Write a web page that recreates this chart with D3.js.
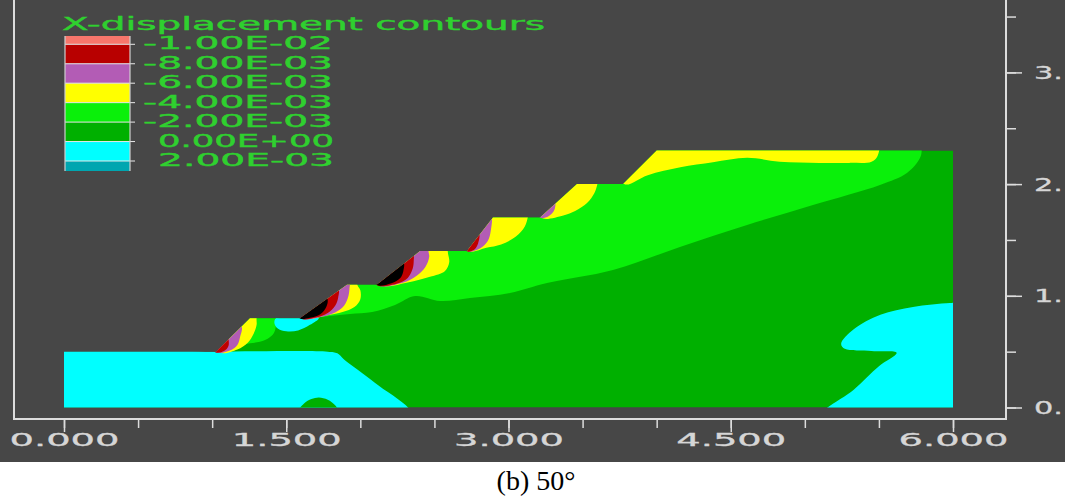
<!DOCTYPE html>
<html>
<head>
<meta charset="utf-8">
<script src="https://cdn.jsdelivr.net/npm/d3@7"></script>
<style>
  html, body { margin: 0; padding: 0; background: #ffffff; }
  svg { display: block; }
</style>
</head>
<body>
<svg id="chart" width="1065" height="497"></svg>
<script>
// ---- axis ticks and labels (model units, metres) ----
const xTickValues = [0, 0.5, 1, 1.5, 2, 2.5, 3, 3.5, 4, 4.5, 5, 5.5, 6];
const xLabelValues = [0, 1.5, 3, 4.5, 6];
const yTickValues = [0, 0.5, 1, 1.5, 2, 2.5, 3, 3.5];
const yLabelValues = [0, 1, 2, 3];

// ---- legend ----
const legendTitle = "X-displacement contours";
const legendLevels = ["-1.00E-02", "-8.00E-03", "-6.00E-03", "-4.00E-03", "-2.00E-03", " 0.00E+00", " 2.00E-03"];
const legendColors = ["#f7766c", "#b80000", "#b35cb5", "#ffff00", "#0af00a", "#00b000", "#00ffff", "#00a6b0"];

// ---- stepped slope profile (x, y) ----
const slopeProfile = [
  [0, 0], [0, 0.5], [1.026, 0.5], [1.255, 0.8], [1.593, 0.8], [1.91, 1.1], [2.112, 1.1],
  [2.403, 1.4], [2.72, 1.4], [2.895, 1.7], [3.213, 1.7], [3.462, 2.0], [3.773, 2.0],
  [4.0, 2.3], [6, 2.3], [6, 0]
];

// ---- contour zones (x, y) ----
const cyanToe = [[-0.1, 0.5], [1.0, 0.5], [1.78, 0.5], [1.845, 0.485], [1.89, 0.43], [2.1, 0.22], [2.34, -0.06], [-0.1, -0.06]];
const baseBump = [[1.57, -0.06], [1.62, 0.035], [1.67, 0.075], [1.72, 0.09], [1.78, 0.07], [1.83, 0.02], [1.86, -0.06]];
const cyanRight = [[6.1, 0.94], [5.98, 0.935], [5.73, 0.9], [5.51, 0.83], [5.33, 0.7], [5.245, 0.57], [5.27, 0.525],
                   [5.45, 0.505], [5.62, 0.49], [5.5, 0.37], [5.33, 0.16], [5.12, -0.06], [6.1, -0.06]];
const cyanPocket = [[1.42, 0.755], [1.445, 0.705], [1.5, 0.683], [1.58, 0.69], [1.66, 0.74], [1.72, 0.8], [1.6, 0.805], [1.5, 0.81], [1.43, 0.8]];
const lightBand = [[1.0, 0.7], [1.134, 0.56], [1.255, 0.575], [1.357, 0.604], [1.417, 0.667], [1.438, 0.765], [1.49, 0.86],
                   [1.714, 0.81], [1.795, 0.82], [1.93, 0.837], [2.08, 0.855], [2.234, 0.918], [2.369, 0.998], [2.538, 0.954],
                   [2.74, 0.98], [3.01, 1.025], [3.26, 1.114], [3.705, 1.231], [4.157, 1.437], [4.61, 1.634], [5.055, 1.813],
                   [5.507, 1.992], [5.689, 2.099], [5.777, 2.233], [5.79, 2.32], [5.79, 2.6], [1.0, 2.6]];
const yellow1 = [[1.0, 0.75], [1.05, 0.495], [1.17, 0.52], [1.24, 0.58], [1.28, 0.66], [1.3, 0.74], [1.3, 0.8], [1.32, 0.9]];
const yellow2 = [[1.58, 0.9], [1.62, 0.797], [1.78, 0.825], [1.88, 0.855], [1.96, 0.9], [2.0, 0.97], [2.0, 1.05], [1.98, 1.1], [1.99, 1.2], [1.8, 1.15]];
const yellow3 = [[2.1, 1.3], [2.14, 1.097], [2.32, 1.12], [2.47, 1.17], [2.57, 1.22], [2.6, 1.3], [2.59, 1.4], [2.6, 1.5], [2.4, 1.5]];
const yellow4 = [[2.7, 1.6], [2.73, 1.4], [2.85, 1.43], [2.95, 1.46], [3.05, 1.53], [3.11, 1.62], [3.13, 1.7], [3.14, 1.8], [2.9, 1.8]];
const yellow5 = [[3.2, 1.9], [3.22, 1.7], [3.37, 1.72], [3.45, 1.76], [3.53, 1.83], [3.58, 1.92], [3.6, 2.0], [3.61, 2.1], [3.4, 2.1]];
const yellow6 = [[3.7, 2.3], [3.78, 2.0], [3.94, 2.08], [4.16, 2.15], [4.38, 2.195], [4.61, 2.235], [4.83, 2.2], [5.1, 2.19],
                 [5.3, 2.19], [5.45, 2.2], [5.49, 2.25], [5.49, 2.4], [4.5, 2.5]];
const purple1 = [[0.98, 0.65], [1.03, 0.495], [1.12, 0.51], [1.17, 0.56], [1.19, 0.64], [1.2, 0.72], [1.15, 0.8]];
const purple2 = [[1.58, 0.92], [1.6, 0.797], [1.74, 0.812], [1.83, 0.85], [1.89, 0.91], [1.92, 1.0], [1.93, 1.1], [1.94, 1.15], [1.75, 1.1]];
const purple3 = [[2.1, 1.3], [2.12, 1.097], [2.28, 1.115], [2.38, 1.18], [2.44, 1.26], [2.465, 1.35], [2.46, 1.4], [2.47, 1.5], [2.3, 1.5]];
const purple4 = [[2.7, 1.55], [2.722, 1.398], [2.81, 1.425], [2.86, 1.49], [2.88, 1.58], [2.88, 1.72], [2.75, 1.65]];
const purple5 = [[3.19, 1.8], [3.215, 1.698], [3.27, 1.712], [3.31, 1.77], [3.31, 1.88], [3.23, 1.85]];
const red1 = [[0.98, 0.6], [1.02, 0.495], [1.08, 0.505], [1.11, 0.55], [1.11, 0.62], [1.1, 0.7]];
const red2 = [[1.58, 0.9], [1.6, 0.797], [1.7, 0.805], [1.78, 0.845], [1.83, 0.91], [1.85, 0.98], [1.85, 1.06]];
const red3 = [[2.09, 1.25], [2.11, 1.097], [2.25, 1.11], [2.32, 1.16], [2.35, 1.23], [2.36, 1.3], [2.35, 1.4]];
const red4 = [[2.7, 1.5], [2.72, 1.398], [2.77, 1.415], [2.795, 1.47], [2.8, 1.56], [2.72, 1.55]];
const black2 = [[1.58, 0.86], [1.593, 0.797], [1.66, 0.803], [1.73, 0.835], [1.77, 0.9], [1.78, 0.96], [1.76, 1.02]];
const black3 = [[2.09, 1.2], [2.112, 1.097], [2.21, 1.113], [2.27, 1.16], [2.29, 1.22], [2.29, 1.3]];

// ---- colours ----
const BG = "#474747";
const AXIS = "#dcdcdc";
const TEXT_GREEN = "#2fd02f";
const C = {
  darkGreen: "#00b000", lightGreen: "#0af00a", cyan: "#00ffff", yellow: "#ffff00",
  purple: "#b35cb5", red: "#bf0000", black: "#000000"
};

const zones = [
  { pts: cyanToe, fill: C.cyan },
  { pts: baseBump, fill: C.darkGreen },
  { pts: cyanRight, fill: C.cyan },
  { pts: lightBand, fill: C.lightGreen },
  { pts: cyanPocket, fill: C.cyan },
  { pts: yellow1, fill: C.yellow }, { pts: yellow2, fill: C.yellow }, { pts: yellow3, fill: C.yellow },
  { pts: yellow4, fill: C.yellow }, { pts: yellow5, fill: C.yellow }, { pts: yellow6, fill: C.yellow },
  { pts: purple1, fill: C.purple }, { pts: purple2, fill: C.purple }, { pts: purple3, fill: C.purple },
  { pts: purple4, fill: C.purple }, { pts: purple5, fill: C.purple },
  { pts: red1, fill: C.red }, { pts: red2, fill: C.red }, { pts: red3, fill: C.red }, { pts: red4, fill: C.red },
  { pts: black2, fill: C.black }, { pts: black3, fill: C.black }
];

// ---- scales ----
const x = d3.scaleLinear().domain([0, 6]).range([64, 953]);
const y = d3.scaleLinear().domain([0, 3]).range([407.5, 72.4]);

const svg = d3.select("#chart");

// plot background
svg.append("rect").attr("x", 0).attr("y", 0).attr("width", 1065).attr("height", 462).attr("fill", BG);

// model outline used as clip
const outline = d3.line().x(d => x(d[0])).y(d => y(d[1])).curve(d3.curveLinearClosed);
const smooth = d3.line().x(d => x(d[0])).y(d => y(d[1])).curve(d3.curveCatmullRomClosed.alpha(0.5));

svg.append("defs").append("clipPath").attr("id", "model-clip")
  .append("path").attr("d", outline(slopeProfile));

const plot = svg.append("g").attr("clip-path", "url(#model-clip)");
plot.append("path").attr("d", outline(slopeProfile)).attr("fill", C.darkGreen);
plot.selectAll("path.zone").data(zones).join("path")
  .attr("class", "zone")
  .attr("d", d => smooth(d.pts))
  .attr("fill", d => d.fill);

// ---- frame lines ----
svg.append("line").attr("x1", 14).attr("x2", 14).attr("y1", 0).attr("y2", 419)
  .attr("stroke", AXIS).attr("stroke-width", 2);
svg.append("line").attr("x1", 13).attr("x2", 1007).attr("y1", 419).attr("y2", 419)
  .attr("stroke", AXIS).attr("stroke-width", 2);
svg.append("line").attr("x1", 1006).attr("x2", 1006).attr("y1", 0).attr("y2", 419)
  .attr("stroke", AXIS).attr("stroke-width", 2);

// ---- bottom axis ----
const styleAxis = g => {
  g.select(".domain").remove();
  g.selectAll(".tick line").attr("stroke", AXIS).attr("stroke-width", 1.5);
};
svg.append("g").attr("transform", "translate(0,419)")
  .call(d3.axisBottom(x).tickValues(xTickValues).tickSize(9).tickFormat(""))
  .call(styleAxis);
const xMajor = svg.append("g").attr("transform", "translate(0,419)")
  .call(d3.axisBottom(x).tickValues(xLabelValues).tickSize(13).tickFormat(d3.format(".3f")))
  .call(styleAxis);
xMajor.selectAll(".tick text")
  .attr("y", 27).attr("dy", 0)
  .attr("fill", "#d6d6d6")
  .attr("font-family", "DejaVu Sans, sans-serif")
  .attr("font-size", 17)
  .attr("stroke", "#d6d6d6").attr("stroke-width", 0.3)
  .attr("textLength", 110).attr("lengthAdjust", "spacingAndGlyphs");

// ---- right axis (labels run into the window edge, only the units digit shows) ----
svg.append("g").attr("transform", "translate(1006,0)")
  .call(d3.axisRight(y).tickValues(yTickValues).tickSize(10).tickFormat(""))
  .call(styleAxis);
const yMajor = svg.append("g").attr("transform", "translate(1006,0)")
  .call(d3.axisRight(y).tickValues(yLabelValues).tickSize(16).tickFormat(d => d3.format("d")(d) + "."))
  .call(styleAxis);
yMajor.selectAll(".tick text")
  .attr("x", 28).attr("dy", "0.35em")
  .attr("text-anchor", "start")
  .attr("fill", "#d6d6d6")
  .attr("font-family", "DejaVu Sans, sans-serif")
  .attr("font-size", 17)
  .attr("stroke", "#d6d6d6").attr("stroke-width", 0.3)
  .attr("textLength", 29).attr("lengthAdjust", "spacingAndGlyphs");

// ---- legend ----
const legend = svg.append("g");
legend.append("text")
  .attr("x", 62).attr("y", 30)
  .attr("fill", TEXT_GREEN)
  .attr("stroke", TEXT_GREEN).attr("stroke-width", 0.4)
  .attr("font-family", "DejaVu Sans, sans-serif")
  .attr("font-size", 17)
  .attr("textLength", 483).attr("lengthAdjust", "spacingAndGlyphs")
  .text(legendTitle);

const bandTop = 36, firstEdge = 44.3, step = 19.45, boxBottom = 171;
const edges = legendLevels.map((_, i) => firstEdge + i * step);
const bandBounds = [bandTop, ...edges, boxBottom];
legend.selectAll("rect.band").data(legendColors).join("rect")
  .attr("class", "band")
  .attr("x", 65).attr("width", 65)
  .attr("y", (d, i) => bandBounds[i])
  .attr("height", (d, i) => bandBounds[i + 1] - bandBounds[i])
  .attr("fill", d => d);
legend.selectAll("line.edge").data(edges).join("line")
  .attr("class", "edge")
  .attr("x1", 65).attr("x2", 135)
  .attr("y1", d => d).attr("y2", d => d)
  .attr("stroke", "#e8e8e8").attr("stroke-width", 1);
legend.append("line").attr("x1", 65).attr("x2", 65).attr("y1", bandTop).attr("y2", boxBottom)
  .attr("stroke", "#cfcfcf").attr("stroke-width", 1.2);
legend.append("line").attr("x1", 130).attr("x2", 130).attr("y1", bandTop).attr("y2", boxBottom)
  .attr("stroke", "#cfcfcf").attr("stroke-width", 1.2);
legend.selectAll("text.level").data(legendLevels).join("text")
  .attr("class", "level")
  .attr("x", d => d.startsWith(" ") ? 158 : 143)
  .attr("y", (d, i) => edges[i] + 5)
  .attr("fill", TEXT_GREEN)
  .attr("stroke", TEXT_GREEN).attr("stroke-width", 0.4)
  .attr("font-family", "DejaVu Sans, sans-serif")
  .attr("font-size", 17)
  .attr("textLength", d => d.startsWith(" ") ? 176 : 190)
  .attr("lengthAdjust", "spacingAndGlyphs")
  .text(d => d.trim());

// ---- caption ----
svg.append("text")
  .attr("x", 536).attr("y", 490)
  .attr("text-anchor", "middle")
  .attr("fill", "#000000")
  .attr("font-family", "Liberation Serif, Times New Roman, serif")
  .attr("font-size", 28)
  .text("(b) 50°");
</script>
</body>
</html>
